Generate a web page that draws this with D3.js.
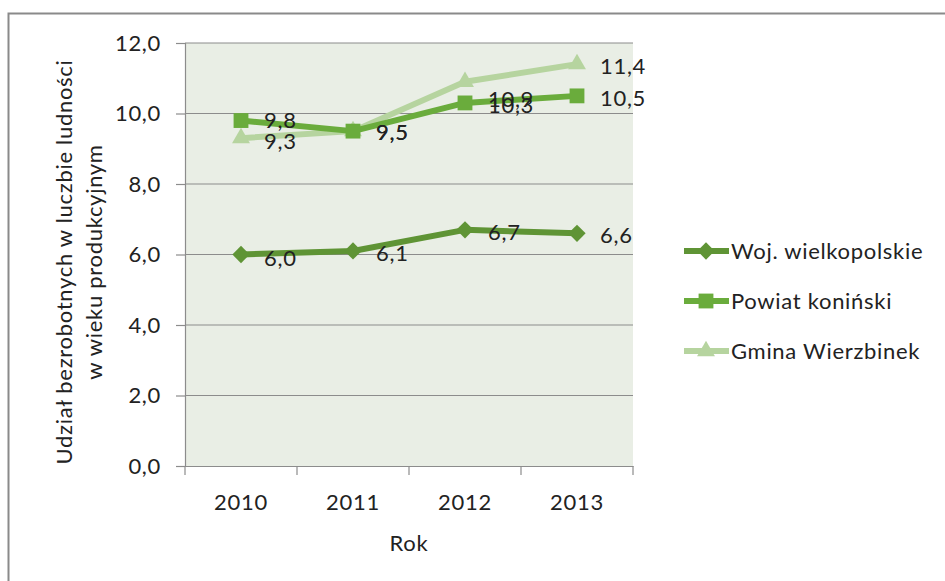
<!DOCTYPE html>
<html><head><meta charset="utf-8">
<script src="https://cdn.jsdelivr.net/npm/d3@7"></script>
<style>body{margin:0;background:#fff}svg{display:block}text{font-family:Lato,"Open Sans",sans-serif;fill:#222;letter-spacing:0.7px}</style>
</head><body><svg id="c" width="945" height="581"></svg>
<script>
const years = ["2010","2011","2012","2013"];
const seriesNames = ["Woj. wielkopolskie","Powiat koniński","Gmina Wierzbinek"];
const wojValues = [6.0, 6.1, 6.7, 6.6];
const powiatValues = [9.8, 9.5, 10.3, 10.5];
const gminaValues = [9.3, 9.5, 10.9, 11.4];
const yTicks = [0,2,4,6,8,10,12];
const yTitleLines = ["Udział bezrobotnych w luczbie ludności","w wieku produkcyjnym"];
const xTitle = "Rok";

const FS = 22;
const svg = d3.select("#c");
// outer frame
svg.append("rect").attr("x",8.5).attr("y",13.5).attr("width",960).attr("height",600)
  .attr("fill","none").attr("stroke","#8a8a8a").attr("stroke-width",2);

const L=185, R=633, T=43, B=466;
const x = d3.scaleBand().domain(years).range([L,R]);
const y = d3.scaleLinear().domain([0,12]).range([B,T]);
const fmt = v => d3.format(".1f")(v).replace(".",",");

svg.append("rect").attr("x",L).attr("y",T).attr("width",R-L).attr("height",B-T).attr("fill","#e9eee5");

// gridlines
svg.append("g").selectAll("line").data(yTicks.filter(d=>d>0)).join("line")
  .attr("x1",L).attr("x2",R).attr("y1",d=>y(d)).attr("y2",d=>y(d))
  .attr("stroke","#8c8c8c").attr("stroke-width",1.2);

const yAxis = svg.append("g").attr("transform",`translate(${L},0)`)
  .call(d3.axisLeft(y).tickValues(yTicks).tickFormat(fmt).tickSize(9).tickPadding(15));
yAxis.select(".domain").attr("stroke","#8c8c8c").attr("stroke-width",1.2);
yAxis.selectAll(".tick line").attr("stroke","#8c8c8c").attr("stroke-width",1.2);
yAxis.selectAll("text").attr("font-size",FS).attr("fill","#222").attr("font-family","Lato");

const xAxis = svg.append("g").attr("transform",`translate(0,${B})`)
  .call(d3.axisBottom(x).tickSize(0).tickPadding(0));
xAxis.select(".domain").attr("stroke","#8c8c8c").attr("stroke-width",1.2);
xAxis.selectAll("text").attr("font-size",FS).attr("fill","#222").attr("font-family","Lato")
  .attr("dy",null).attr("y",44);
// category boundary ticks
svg.append("g").selectAll("line").data(years.concat(["end"])).join("line")
  .attr("x1",(d,i)=>L+i*x.step()).attr("x2",(d,i)=>L+i*x.step())
  .attr("y1",B).attr("y2",B+9).attr("stroke","#8c8c8c").attr("stroke-width",1.2);

svg.append("text").attr("x",(L+R)/2).attr("y",551).attr("text-anchor","middle")
  .attr("font-size",FS).text(xTitle);
const yt = svg.append("text").attr("transform","translate(80,262) rotate(-90)").attr("text-anchor","middle").attr("font-size",FS);
yt.append("tspan").attr("x",0).attr("y",-8).text(yTitleLines[0]);
yt.append("tspan").attr("x",0).attr("y",22).text(yTitleLines[1]);

const series = [
  {name:seriesNames[0], values:wojValues, color:"#5f9435", shape:"diamond"},
  {name:seriesNames[1], values:powiatValues, color:"#6aac3c", shape:"square"},
  {name:seriesNames[2], values:gminaValues, color:"#b6d49f", shape:"triangle"}
];
const labelDy = [[4,2,2,2],[0,1,2,2],[3,1,17,2]];
const shapeFor = s => s==="diamond" ? d3.symbol(d3.symbolDiamond2,190)() : s==="square" ? d3.symbol(d3.symbolSquare2,280)() : d3.symbol(d3.symbolTriangle2,230)();
const cx = d => x(d)+x.bandwidth()/2;

const drawOrder = [2,1,0];
drawOrder.forEach(si=>{
  const s = series[si];
  const line = d3.line().x((d,i)=>cx(years[i])).y(d=>y(d));
  svg.append("path").attr("d",line(s.values)).attr("fill","none").attr("stroke",s.color)
    .attr("stroke-width",6).attr("stroke-linejoin","round");
  svg.append("g").selectAll("path").data(s.values).join("path")
    .attr("transform",(d,i)=>`translate(${cx(years[i])},${y(d)})`)
    .attr("d",shapeFor(s.shape)).attr("fill",s.color);
});
series.forEach((s,si)=>{
  svg.append("g").selectAll("text").data(s.values).join("text")
    .attr("x",(d,i)=>cx(years[i])+23).attr("y",(d,i)=>y(d)+labelDy[si][i])
    .attr("dy","0.36em").attr("font-size",FS).text(fmt);
});

// legend
const legY = [251,301,351];
series.forEach((s,i)=>{
  const g = svg.append("g").attr("transform",`translate(0,${legY[i]})`);
  g.append("line").attr("x1",684).attr("x2",729).attr("stroke",s.color).attr("stroke-width",6);
  g.append("path").attr("transform","translate(706,0)").attr("d",shapeFor(s.shape)).attr("fill",s.color);
  g.append("text").attr("x",731).attr("y",0).attr("dy","0.36em").attr("font-size",FS).text(s.name);
});
</script></body></html>
